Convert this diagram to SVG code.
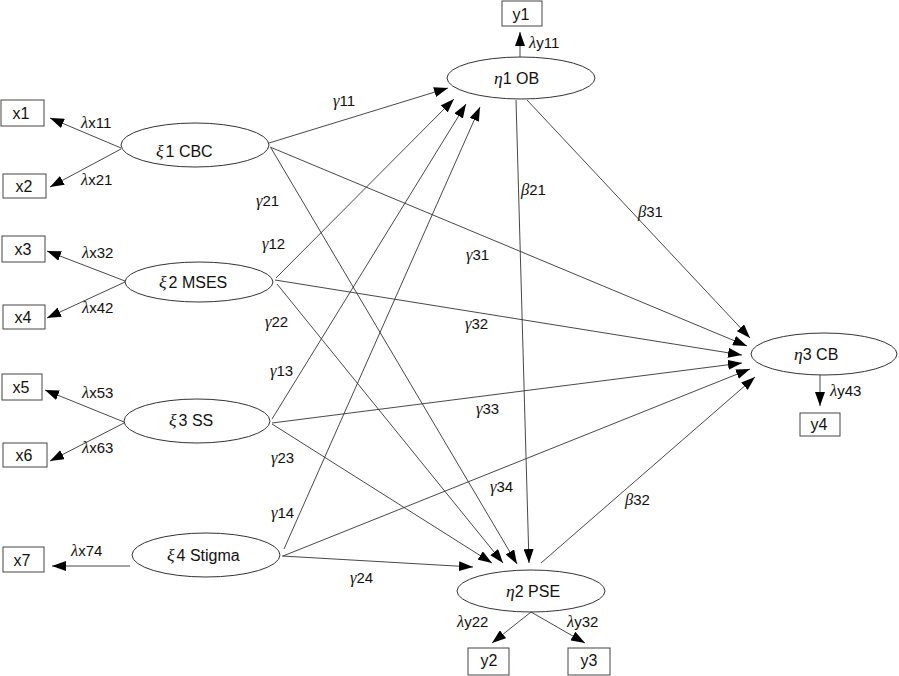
<svg xmlns="http://www.w3.org/2000/svg" width="899" height="676" viewBox="0 0 899 676">
<style>
.n{fill:none;stroke:#333;stroke-width:1}
.b{fill:#fff;stroke:#444;stroke-width:1}
.c line{stroke:#333;stroke-width:0.9;marker-end:url(#ah)}
text{font-family:"Liberation Sans",Arial,sans-serif;fill:#111}
.t{font-size:16px}
.l{font-size:15px}
.g{font-family:"Liberation Serif","DejaVu Serif",serif;font-style:italic;font-size:1.1em}
.m{text-anchor:middle}
</style>
<defs>
<marker id="ah" viewBox="0 0 14 10" refX="14" refY="5" markerWidth="14" markerHeight="10" orient="auto" markerUnits="userSpaceOnUse">
<path d="M0,0 L14,5 L0,10 z" fill="#000"/>
</marker>
</defs>
<rect width="899" height="676" fill="#fff"/>
<g id="connectors" class="c">
<line x1="121" y1="148" x2="50" y2="118"/>
<line x1="121" y1="149" x2="50" y2="187"/>
<line x1="125" y1="281" x2="47" y2="251"/>
<line x1="125" y1="282" x2="47" y2="318"/>
<line x1="124" y1="422" x2="45" y2="390"/>
<line x1="124" y1="423" x2="50" y2="461"/>
<line x1="130" y1="566" x2="52" y2="566"/>
<line x1="520" y1="57" x2="520" y2="32"/>
<line x1="820" y1="375" x2="820" y2="406"/>
<line x1="531" y1="612" x2="492" y2="643"/>
<line x1="531" y1="612" x2="585" y2="643"/>
<line x1="269" y1="143" x2="448" y2="88"/>
<line x1="271" y1="148" x2="517" y2="564"/>
<line x1="270" y1="147" x2="747" y2="346"/>
<line x1="276" y1="278" x2="454" y2="99"/>
<line x1="277" y1="284" x2="503" y2="563"/>
<line x1="275" y1="280" x2="742" y2="355"/>
<line x1="272" y1="419" x2="466" y2="104"/>
<line x1="272" y1="424" x2="492" y2="563"/>
<line x1="272" y1="423" x2="742" y2="363"/>
<line x1="284" y1="549" x2="480" y2="107"/>
<line x1="282" y1="556" x2="473" y2="567"/>
<line x1="283" y1="556" x2="750" y2="369"/>
<line x1="516" y1="100" x2="529" y2="563"/>
<line x1="527" y1="100" x2="750" y2="338"/>
<line x1="541" y1="563" x2="755" y2="377"/>
</g>
<g id="edge-labels" class="l">
<text x="333" y="106"><tspan class="g">γ</tspan>11</text>
<text x="256" y="206"><tspan class="g">γ</tspan>21</text>
<text x="262" y="249"><tspan class="g">γ</tspan>12</text>
<text x="265" y="327"><tspan class="g">γ</tspan>22</text>
<text x="270" y="376"><tspan class="g">γ</tspan>13</text>
<text x="271" y="463"><tspan class="g">γ</tspan>23</text>
<text x="271" y="518"><tspan class="g">γ</tspan>14</text>
<text x="350" y="583"><tspan class="g">γ</tspan>24</text>
<text x="466" y="260"><tspan class="g">γ</tspan>31</text>
<text x="465" y="329"><tspan class="g">γ</tspan>32</text>
<text x="476" y="414"><tspan class="g">γ</tspan>33</text>
<text x="490" y="492"><tspan class="g">γ</tspan>34</text>
<text x="521" y="195"><tspan class="g">β</tspan>21</text>
<text x="638" y="217"><tspan class="g">β</tspan>31</text>
<text x="625" y="505"><tspan class="g">β</tspan>32</text>
<text x="81" y="128"><tspan class="g">λ</tspan>x11</text>
<text x="81" y="185"><tspan class="g">λ</tspan>x21</text>
<text x="82" y="258"><tspan class="g">λ</tspan>x32</text>
<text x="82" y="313"><tspan class="g">λ</tspan>x42</text>
<text x="82" y="398"><tspan class="g">λ</tspan>x53</text>
<text x="82" y="453"><tspan class="g">λ</tspan>x63</text>
<text x="71" y="556"><tspan class="g">λ</tspan>x74</text>
<text x="529" y="48"><tspan class="g">λ</tspan>y11</text>
<text x="830" y="396"><tspan class="g">λ</tspan>y43</text>
<text x="457" y="627"><tspan class="g">λ</tspan>y22</text>
<text x="567" y="627"><tspan class="g">λ</tspan>y32</text>
</g>
<g id="xi1"><ellipse class="n" cx="195" cy="145" rx="74" ry="22"/><text class="t" x="156" y="157"><tspan class="g">ξ</tspan><tspan dx="2">1 CBC</tspan></text></g>
<g id="xi2"><ellipse class="n" cx="199" cy="282" rx="74" ry="20"/><text class="t" x="159" y="288"><tspan class="g">ξ</tspan><tspan dx="2">2 MSES</tspan></text></g>
<g id="xi3"><ellipse class="n" cx="197" cy="421" rx="73" ry="22"/><text class="t" x="169" y="426"><tspan class="g">ξ</tspan><tspan dx="2">3 SS</tspan></text></g>
<g id="xi4"><ellipse class="n" cx="206" cy="555" rx="74" ry="22"/><text class="t" x="167" y="561"><tspan class="g">ξ</tspan><tspan dx="2">4 Stigma</tspan></text></g>
<g id="eta1"><ellipse class="n" cx="521" cy="78" rx="74" ry="21"/><text class="t" x="494" y="84"><tspan class="g">η</tspan>1 OB</text></g>
<g id="eta2"><ellipse class="n" cx="531" cy="591" rx="74" ry="21"/><text class="t" x="506" y="597"><tspan class="g">η</tspan>2 PSE</text></g>
<g id="eta3"><ellipse class="n" cx="824" cy="354" rx="73" ry="21"/><text class="t" x="794" y="360"><tspan class="g">η</tspan>3 CB</text></g>
<g id="x1"><rect class="b" x="1" y="100" width="43" height="26"/><text class="t m" x="21" y="119">x1</text></g>
<g id="x2"><rect class="b" x="3" y="174" width="43" height="24"/><text class="t m" x="24" y="192">x2</text></g>
<g id="x3"><rect class="b" x="2" y="236" width="43" height="26"/><text class="t m" x="23" y="255">x3</text></g>
<g id="x4"><rect class="b" x="3" y="305" width="42" height="24"/><text class="t m" x="23" y="323">x4</text></g>
<g id="x5"><rect class="b" x="2" y="374" width="40" height="26"/><text class="t m" x="21" y="393">x5</text></g>
<g id="x6"><rect class="b" x="3" y="443" width="44" height="24"/><text class="t m" x="24" y="461">x6</text></g>
<g id="x7"><rect class="b" x="3" y="547" width="41" height="25"/><text class="t m" x="22" y="566">x7</text></g>
<g id="y1"><rect class="b" x="502" y="1" width="40" height="25"/><text class="t m" x="521" y="20">y1</text></g>
<g id="y4"><rect class="b" x="800" y="413" width="40" height="23"/><text class="t m" x="819" y="430">y4</text></g>
<g id="y2"><rect class="b" x="468" y="648" width="41" height="27"/><text class="t m" x="489" y="666">y2</text></g>
<g id="y3"><rect class="b" x="568" y="648" width="42" height="27"/><text class="t m" x="589" y="666">y3</text></g>
</svg>
